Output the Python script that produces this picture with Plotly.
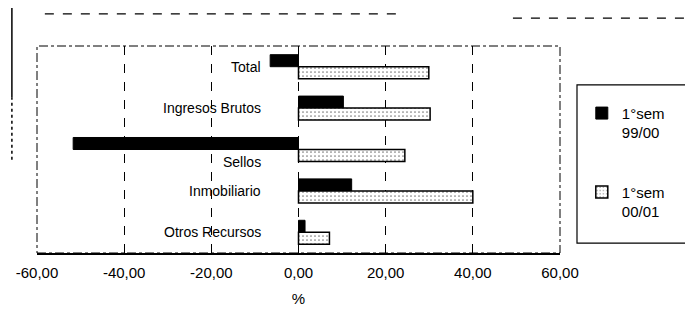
import plotly.graph_objects as go

categories = ["Total", "Ingresos Brutos", "Sellos", "Inmobiliario", "Otros Recursos"]
series_names = ["1°sem<br>99/00", "1°sem<br>00/01"]
values_9900 = [-6.5, 10.3, -51.7, 12.2, 1.5]
values_0001 = [29.9, 30.2, 24.4, 40.0, 7.1]
tick_vals = [-60, -40, -20, 0, 20, 40, 60]
tick_text = ["-60,00", "-40,00", "-20,00", "0,00", "20,00", "40,00", "60,00"]

FONT = "Liberation Sans, Arial, sans-serif"

fig = go.Figure()
fig.add_trace(go.Bar(
    y=categories, x=values_9900, orientation="h", name=series_names[0],
    legendgroup="a",
    marker=dict(color="black", line=dict(color="black", width=1)),
))
fig.add_trace(go.Bar(
    y=categories, x=values_0001, orientation="h", name=series_names[1],
    legendgroup="b",
    marker=dict(color="white", line=dict(color="black", width=1.5),
                pattern=dict(shape=".", size=4, solidity=0.15, fgcolor="black", bgcolor="white")),
))

# category labels next to the zero axis
for cat in categories:
    fig.add_annotation(
        x=0, y=cat, xref="x", yref="y", text=cat, showarrow=False,
        xanchor="right", yanchor="middle", xshift=-36,
        yshift=-12 if cat == "Sellos" else 0,
        font=dict(family=FONT, size=14, color="black"),
    )

# plot-area dashed frame
fig.add_shape(type="rect", xref="paper", yref="paper", x0=0, x1=1, y0=0, y1=1,
              line=dict(color="black", width=1, dash="dashdot"), layer="above")

# legend frame
fig.add_shape(type="rect", xref="paper", yref="paper", x0=1.0325, x1=1.2486, y0=0.048, y1=0.812,
              line=dict(color="black", width=1.2))

# scanned outer-border fragments
fig.add_shape(type="line", xref="paper", yref="paper", x0=0.015, x1=0.69, y0=1.155, y1=1.155,
              line=dict(color="black", width=1.2, dash="dash"))
fig.add_shape(type="line", xref="paper", yref="paper", x0=0.91, x1=1.25, y0=1.135, y1=1.135,
              line=dict(color="black", width=1.2, dash="dash"))
fig.add_shape(type="line", xref="paper", yref="paper", x0=-0.048, x1=-0.048, y0=0.75, y1=1.2,
              line=dict(color="black", width=1.5))
fig.add_shape(type="line", xref="paper", yref="paper", x0=-0.048, x1=-0.048, y0=0.45, y1=0.75,
              line=dict(color="black", width=1.5, dash="dot"))

fig.update_layout(
    width=693, height=315,
    margin=dict(l=29, r=141, t=38, b=70, autoexpand=False),
    paper_bgcolor="white", plot_bgcolor="white",
    barmode="group", bargap=0.42, bargroupgap=0,
    font=dict(family=FONT, size=15, color="black"),
    showlegend=True,
    legend=dict(
        xref="container", yref="container", x=0.828, y=0.718,
        xanchor="left", yanchor="top",
        borderwidth=0, bgcolor="rgba(0,0,0,0)",
        font=dict(family=FONT, size=15, color="black"),
        traceorder="grouped", tracegroupgap=37, valign="top",
        itemwidth=30,
    ),
    xaxis=dict(
        range=[-60, 60], tickvals=tick_vals, ticktext=tick_text,
        showgrid=True, gridcolor="black", gridwidth=1, griddash="dash",
        zeroline=False, showline=True, linecolor="black", linewidth=1.5,
        ticks="", ticklen=0, automargin=False, ticklabelstandoff=5,
        tickfont=dict(family=FONT, size=15, color="black"),
        title=dict(text="%", font=dict(family=FONT, size=15, color="black"), standoff=14),
    ),
    yaxis=dict(
        categoryorder="array", categoryarray=categories, autorange="reversed",
        showticklabels=False, showgrid=False, zeroline=False, showline=False, ticks="",
        automargin=False,
    ),
)

fig.write_html("out.html")
